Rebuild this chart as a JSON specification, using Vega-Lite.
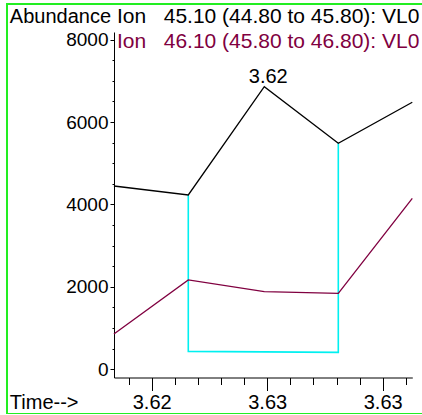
{
  "$schema": "https://vega.github.io/schema/vega-lite/v6.json",
  "width": 415,
  "height": 410,
  "autosize": {"type": "none"},
  "padding": {"left": 7, "top": 4, "right": 0, "bottom": 0},
  "background": "white",
  "config": {
    "view": {"stroke": "#22ee22", "strokeWidth": 2, "strokeDash": [415, 410, 1000]},
    "font": "Liberation Sans",
    "axis": {"grid": false, "domainColor": "black", "tickColor": "black", "labelColor": "black", "titleColor": "black", "labelFont": "Liberation Sans", "titleFont": "Liberation Sans", "titleFontWeight": "normal", "labelFlush": false, "labelOverlap": false, "tickWidth": 1, "domainWidth": 1}
  },
  "datasets": {
    "chrom": [
      {"time": 3.618364, "abundance": 4449, "ion": "Ion\u00a0\u00a0\u00a045.10 (44.80 to 45.80): VL0"},
      {"time": 3.621584, "abundance": 4231, "ion": "Ion\u00a0\u00a0\u00a045.10 (44.80 to 45.80): VL0"},
      {"time": 3.624874, "abundance": 6859, "ion": "Ion\u00a0\u00a0\u00a045.10 (44.80 to 45.80): VL0"},
      {"time": 3.628078, "abundance": 5485, "ion": "Ion\u00a0\u00a0\u00a045.10 (44.80 to 45.80): VL0"},
      {"time": 3.631281, "abundance": 6481, "ion": "Ion\u00a0\u00a0\u00a045.10 (44.80 to 45.80): VL0"},
      {"time": 3.618364, "abundance": 857, "ion": "Ion\u00a0\u00a0\u00a046.10 (45.80 to 46.80): VL0"},
      {"time": 3.621584, "abundance": 2168, "ion": "Ion\u00a0\u00a0\u00a046.10 (45.80 to 46.80): VL0"},
      {"time": 3.624874, "abundance": 1883, "ion": "Ion\u00a0\u00a0\u00a046.10 (45.80 to 46.80): VL0"},
      {"time": 3.628078, "abundance": 1845, "ion": "Ion\u00a0\u00a0\u00a046.10 (45.80 to 46.80): VL0"},
      {"time": 3.631281, "abundance": 4150, "ion": "Ion\u00a0\u00a0\u00a046.10 (45.80 to 46.80): VL0"}
    ],
    "integration": [
      {"time": 3.621584, "abundance": 4231, "step": 1},
      {"time": 3.621584, "abundance": 435, "step": 2},
      {"time": 3.628078, "abundance": 410, "step": 3},
      {"time": 3.628078, "abundance": 5485, "step": 4}
    ],
    "peaks": [
      {"time": 3.624874, "abundance": 6859, "label": "3.62"}
    ]
  },
  "layer": [
    {
      "data": {"name": "integration"},
      "mark": {"type": "line", "color": "#00f0f0", "strokeWidth": 1.6},
      "encoding": {
        "x": {"field": "time", "type": "quantitative",
          "scale": {"domain": [3.6137359, 3.6317013], "nice": false, "zero": false},
          "axis": {"orient": "bottom", "offset": -36.5, "values": [3.619, 3.620, 3.621, 3.622, 3.623, 3.624, 3.625, 3.626, 3.627, 3.628, 3.629, 3.630, 3.631], "labels": false, "domain": false, "tickSize": 7, "title": null}},
        "y": {"field": "abundance", "type": "quantitative",
          "scale": {"domain": [-1085, 8866.5], "nice": false, "zero": false},
          "axis": {"orient": "left", "offset": -107, "values": [0, 500, 1000, 1500, 2000, 2500, 3000, 3500, 4000, 4500, 5000, 5500, 6000, 6500, 7000, 7500, 8000], "labels": false, "domain": false, "tickSize": 2, "title": null}},
        "order": {"field": "step", "type": "quantitative"}
      }
    },
    {
      "data": {"name": "chrom"},
      "mark": {"type": "line", "strokeWidth": 1.3},
      "encoding": {
        "x": {"field": "time", "type": "quantitative",
          "scale": {"domain": [3.6137359, 3.6317013], "nice": false, "zero": false},
          "axis": {"orient": "bottom", "offset": -36.5, "values": [3.620, 3.625, 3.630], "format": ".2f", "tickSize": 13, "labelFontSize": 20, "labelBaseline": "alphabetic", "labelPadding": 17.5, "domainDash": [0, 107, 298.3, 1000], "title": "Time-->", "titleFontSize": 20, "titleX": 2.3, "titleY": 31, "titleAlign": "left", "titleBaseline": "alphabetic"}},
        "y": {"field": "abundance", "type": "quantitative",
          "scale": {"domain": [-1085, 8866.5], "nice": false, "zero": false},
          "axis": {"orient": "left", "offset": -107, "values": [0, 2000, 4000, 6000, 8000], "format": "d", "tickSize": 4, "labelFontSize": 19, "labelPadding": 2, "domainDash": [0, 36.5, 345.5, 1000], "title": "Abundance", "titleAngle": 0, "titleX": -104.7, "titleY": 18.7, "titleAlign": "left", "titleBaseline": "alphabetic", "titleFontSize": 20}},
        "color": {"field": "ion", "type": "nominal",
          "scale": {"domain": ["Ion\u00a0\u00a0\u00a045.10 (44.80 to 45.80): VL0", "Ion\u00a0\u00a0\u00a046.10 (45.80 to 46.80): VL0"], "range": ["#000000", "#800040"]},
          "legend": {"orient": "none", "legendX": 89, "legendY": 8.2, "title": null, "padding": 0, "symbolSize": 0, "symbolOpacity": 0, "symbolStrokeWidth": 0, "labelOffset": 0, "labelFontSize": 21, "labelFont": "Liberation Sans", "labelBaseline": "alphabetic", "labelLimit": 600, "rowPadding": 3,
            "encode": {"labels": {"update": {"fill": {"scale": "color", "field": "value"}}}}}}
      }
    },
    {
      "data": {"name": "peaks"},
      "mark": {"type": "text", "align": "center", "baseline": "alphabetic", "dx": 4, "dy": -4, "fontSize": 20, "font": "Liberation Sans", "color": "black"},
      "encoding": {
        "x": {"field": "time", "type": "quantitative", "scale": {"domain": [3.6137359, 3.6317013], "nice": false, "zero": false}, "axis": null},
        "y": {"field": "abundance", "type": "quantitative", "scale": {"domain": [-1085, 8866.5], "nice": false, "zero": false}, "axis": null},
        "text": {"field": "label"}
      }
    }
  ],
  "resolve": {"axis": {"x": "independent", "y": "independent"}}
}
